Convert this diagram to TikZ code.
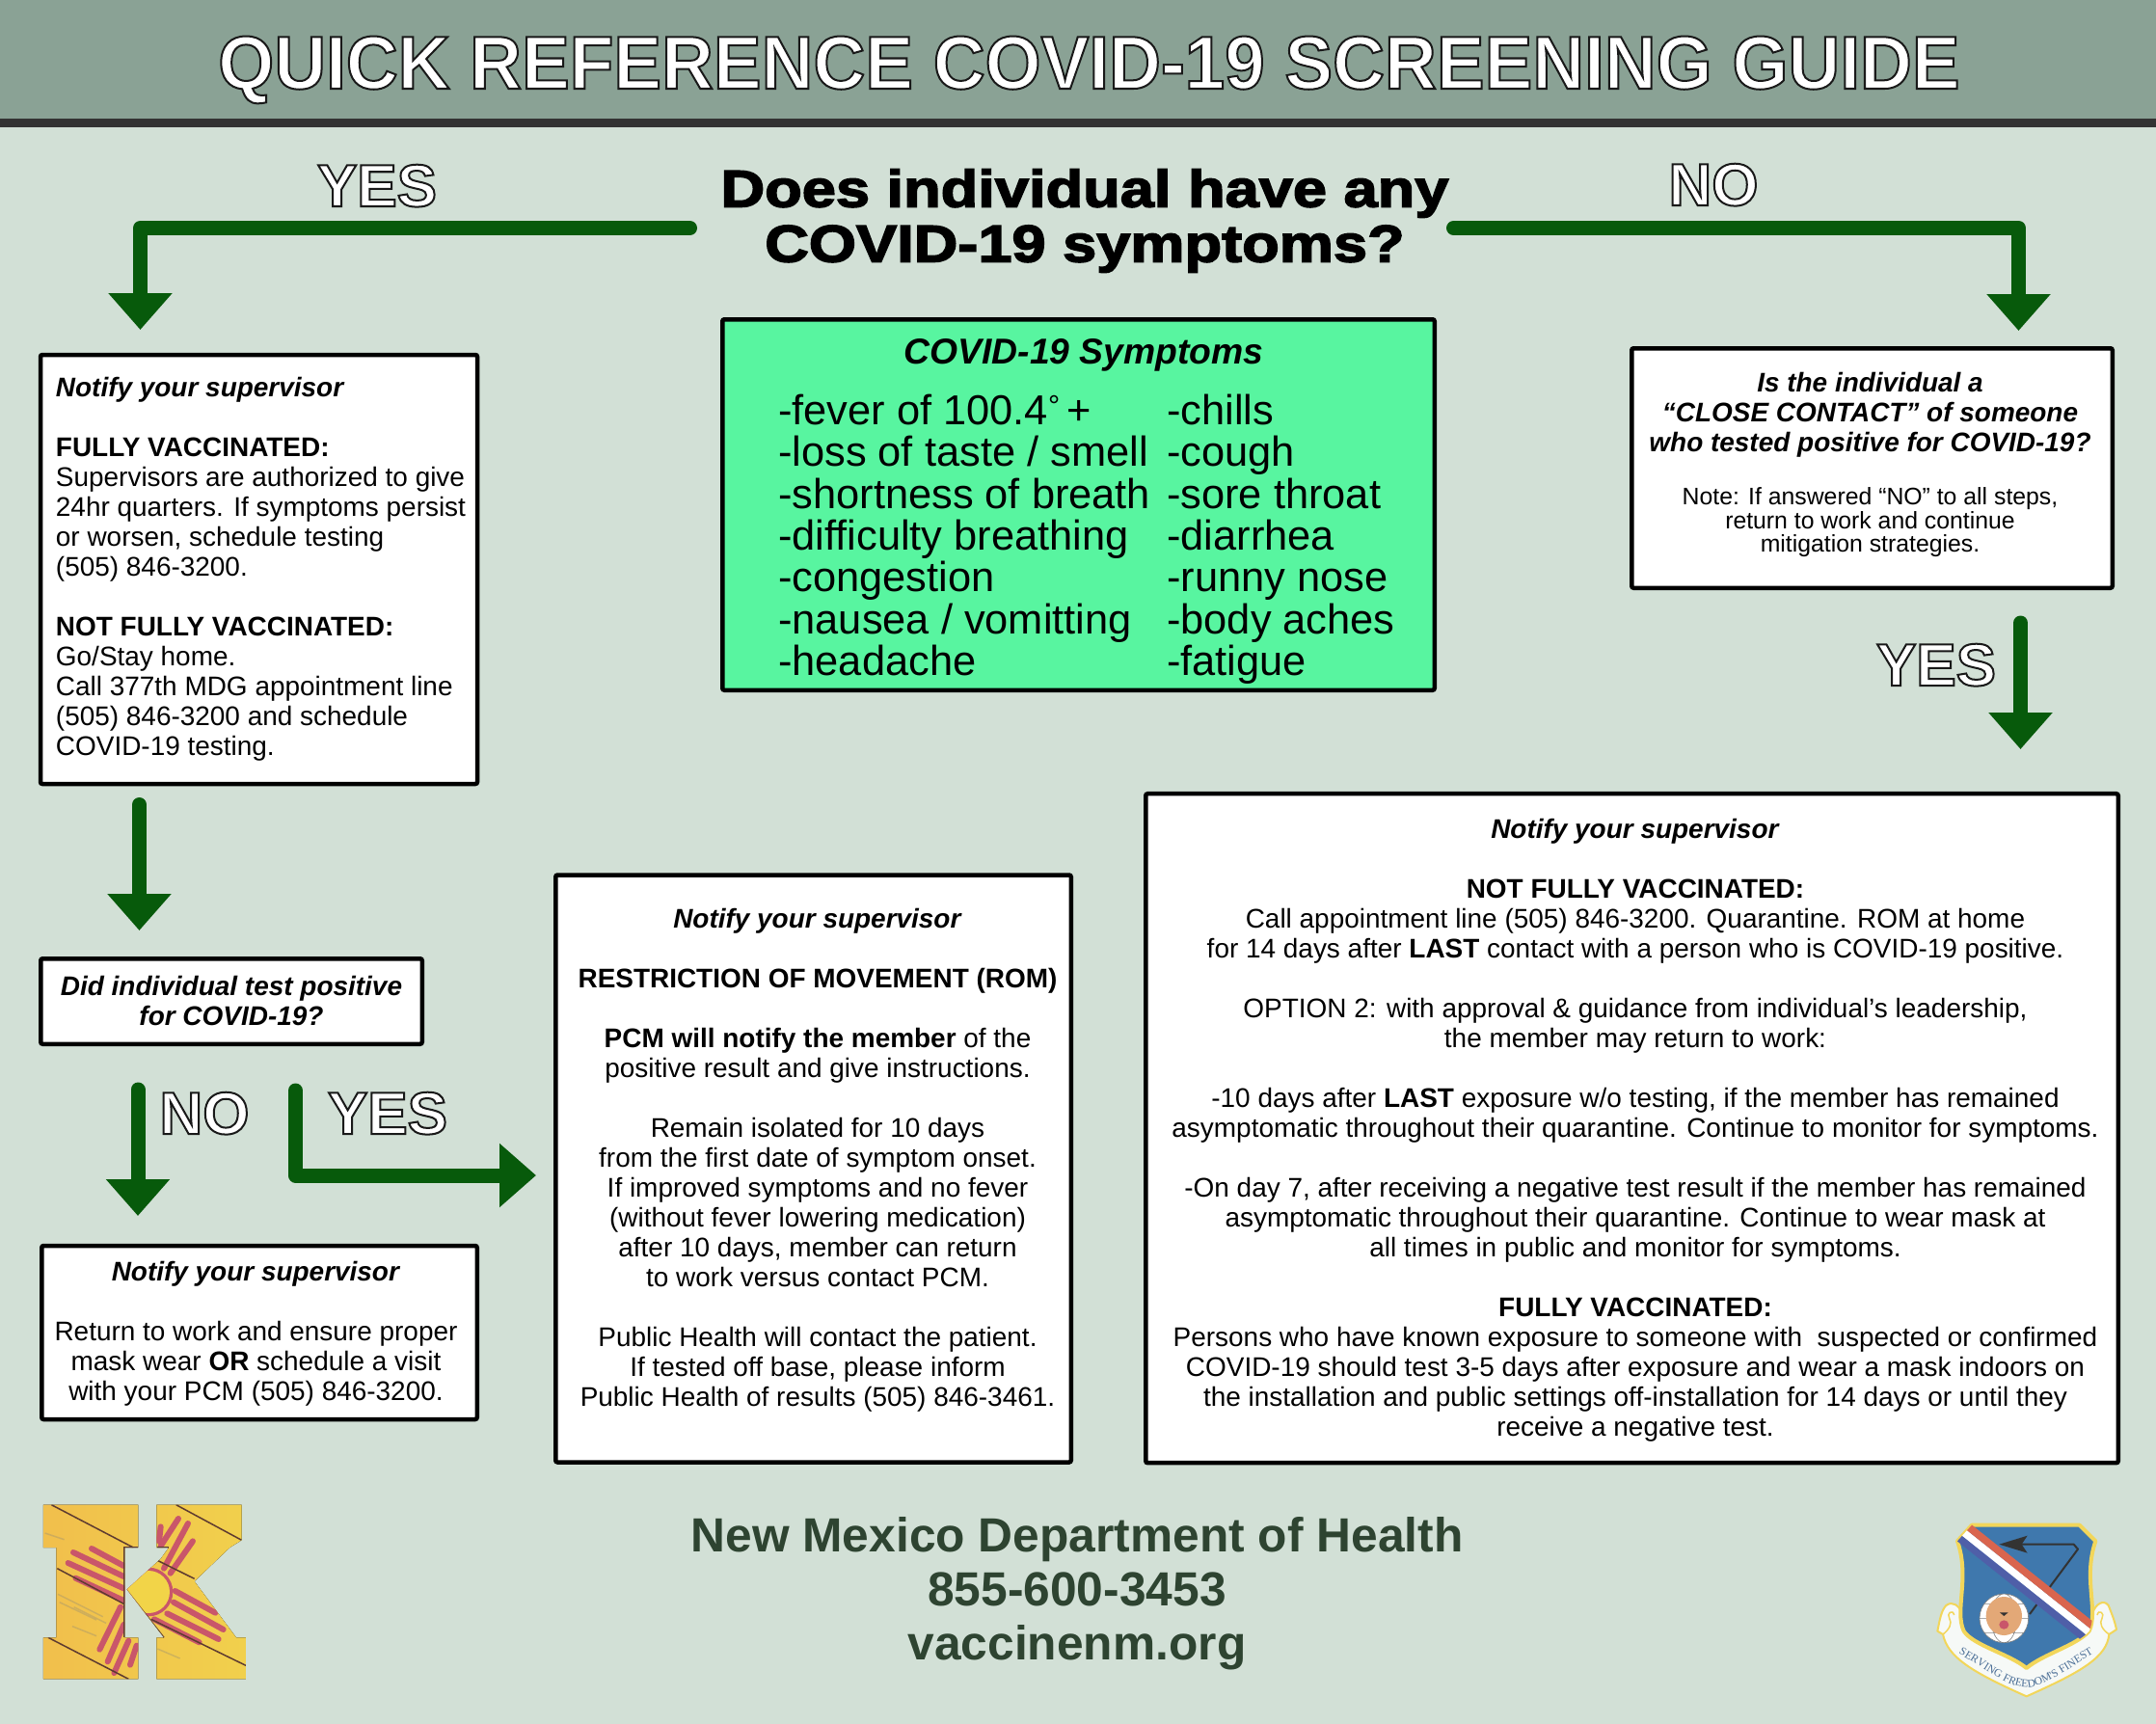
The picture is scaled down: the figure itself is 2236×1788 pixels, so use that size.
\documentclass[tikz,border=0pt]{standalone}
\usepackage{fontspec}
\setmainfont{Liberation Sans}
\setsansfont{Liberation Sans}
\newfontfamily\askfont[FakeBold=3,FakeStretch=1.17]{Liberation Sans Bold}
\newfontfamily\headfont[FakeStretch=0.956]{Liberation Sans Bold}
\newfontfamily\crestfont{Liberation Serif}
\usepackage{tikz}
\usetikzlibrary{arrows.meta,decorations.text}
\definecolor{pagec}{HTML}{D2E0D6}
\definecolor{bandc}{HTML}{8AA295}
\definecolor{barc}{HTML}{333333}
\definecolor{arrowc}{HTML}{075A0B}
\definecolor{sympc}{HTML}{58F5A0}
\definecolor{footc}{HTML}{2E4431}
\definecolor{kgold}{HTML}{EFC95A}
\definecolor{kred}{HTML}{C9566A}
\definecolor{kline}{HTML}{5E3B30}
\definecolor{crestblue}{HTML}{3F78AD}
\definecolor{crestgold}{HTML}{F2D65A}
\definecolor{crestred}{HTML}{D9654E}
\definecolor{crestpurple}{HTML}{4F5FA8}
\definecolor{cresttext}{HTML}{4A6E96}
\definecolor{tigerc}{HTML}{E3A877}
\newcommand{\outl}[1]{\special{pdf:code q 2 Tr 2 w 0.1 0.1 0.1 RG 1 1 1 rg}#1\special{pdf:code Q}}
\newcommand{\bodysize}{\fontsize{27.95}{31}\selectfont}
\newcommand{\notesize}{\fontsize{24.8}{25}\selectfont}
\tikzset{
  >={Triangle[length=38pt,width=64pt]},
  bigarrow/.style={->,line width=15pt,draw=arrowc,line cap=round,line join=round},
  infobox/.style={draw=black,line width=4.5pt,fill=white,rounded corners=2pt,inner sep=0pt},
  boxtext/.style={font=\bodysize,align=center,inner sep=0pt},
  flag/.style={font=\bfseries\fontsize{62}{62}\selectfont,text=white,anchor=base,inner sep=0pt},
  sympcol/.style={font=\fontsize{43.4}{43.3}\selectfont,align=left,anchor=north west,inner sep=0pt},
  ray/.style={line width=6pt,draw=kred,line cap=round},
  kstroke/.style={line width=1.5pt,draw=kline},
  band/.style={line width=7.5pt},
}
\begin{document}
\begin{tikzpicture}[x=1pt,y=-1pt]
  \fill[pagec] (0,0) rectangle (2236,1788);
  \useasboundingbox (0,0) rectangle (2236,1788);
  \fill[bandc] (0,0) rectangle (2236,123);
  \fill[barc] (0,123) rectangle (2236,132);
  \node[font=\headfont\fontsize{78}{78}\selectfont,text=white,anchor=base,inner sep=0pt] (title) at (1129.5,92) {\outl{QUICK REFERENCE COVID-19 SCREENING GUIDE}};
  % question and the symptom list
  \node[font=\askfont\fontsize{54}{57}\selectfont,align=center,inner sep=0pt] (ask) at (1125,229) {Does individual have any\\COVID-19 symptoms?};
  \node[infobox,fill=sympc,minimum width=738.5pt,minimum height=384.5pt] (symp) at (1118.5,523.5) {};
  \node[font=\bfseries\itshape\fontsize{37.3}{37}\selectfont,anchor=base,inner sep=0pt] (symphead) at (1124,377) {COVID-19 Symptoms};
  \node[sympcol] (sympa) at (807,409) {-fever of 100.4\textsuperscript{°}\,+\\-loss of taste / smell\\-shortness of breath\\-difficulty breathing\\-congestion\\-nausea / vomitting\\-headache};
  \node[sympcol] (sympb) at (1210,409) {-chills\\-cough\\-sore throat\\-diarrhea\\-runny nose\\-body aches\\-fatigue};
  % boxes
  \node[infobox,minimum width=453pt,minimum height=445pt] (yesbox) at (268.5,590.5) {};
  \node[boxtext,align=left] (yestext) at ([xshift=2pt,yshift=0.5pt]yesbox.center) {\textbf{\textit{Notify your supervisor}}\\[31pt]\textbf{FULLY VACCINATED:}\\Supervisors are authorized to give\\24hr quarters. If symptoms persist\\or worsen, schedule testing\\(505) 846-3200.\\[31pt]\textbf{NOT FULLY VACCINATED:}\\Go/Stay home.\\Call 377th MDG appointment line\\(505) 846-3200 and schedule\\COVID-19 testing.};
  \node[infobox,minimum width=395.5pt,minimum height=88.5pt] (testbox) at (240,1038.5) {};
  \node[boxtext] (testtext) at ([yshift=0.5pt]testbox.center) {\textbf{\textit{Did individual test positive}}\\\textbf{\textit{for COVID-19?}}};
  \node[infobox,minimum width=451.5pt,minimum height=180pt] (negbox) at (269,1382) {};
  \node[boxtext] (negtext) at ([xshift=-3.5pt,yshift=-1pt]negbox.center) {\textbf{\textit{Notify your supervisor}}\\[31pt]Return to work and ensure proper\\mask wear \textbf{OR} schedule a visit\\with your PCM (505) 846-3200.};
  \node[infobox,minimum width=534.5pt,minimum height=609pt] (rombox) at (843.5,1212) {};
  \node[boxtext] (romtext) at ([xshift=4.5pt,yshift=8.5pt]rombox.center) {\textbf{\textit{Notify your supervisor}}\\[31pt]\textbf{RESTRICTION OF MOVEMENT (ROM)}\\[31pt]\textbf{PCM will notify the member} of the\\positive result and give instructions.\\[31pt]Remain isolated for 10 days\\from the first date of symptom onset.\\If improved symptoms and no fever\\(without fever lowering medication)\\after 10 days, member can return\\to work versus contact PCM.\\[31pt]Public Health will contact the patient.\\If tested off base, please inform\\Public Health of results (505) 846-3461.};
  \node[infobox,minimum width=1008.5pt,minimum height=694pt] (closebox) at (1692.5,1170.2) {};
  \node[boxtext] (closetext) at ([xshift=3.5pt,yshift=-1.8pt]closebox.center) {\textbf{\textit{Notify your supervisor}}\\[31pt]\textbf{NOT FULLY VACCINATED:}\\Call appointment line (505) 846-3200. Quarantine. ROM at home\\for 14 days after \textbf{LAST} contact with a person who is COVID-19 positive.\\[31pt]OPTION 2: with approval \& guidance from individual’s leadership,\\the member may return to work:\\[31pt]-10 days after \textbf{LAST} exposure w/o testing, if the member has remained\\asymptomatic throughout their quarantine. Continue to monitor for symptoms.\\[31pt]-On day 7, after receiving a negative test result if the member has remained\\asymptomatic throughout their quarantine. Continue to wear mask at\\all times in public and monitor for symptoms.\\[31pt]\textbf{FULLY VACCINATED:}\\Persons who have known exposure to someone with\ \ suspected or confirmed\\COVID-19 should test 3-5 days after exposure and wear a mask indoors on\\the installation and public settings off-installation for 14 days or until they\\receive a negative test.};
  \node[infobox,minimum width=498.5pt,minimum height=248.5pt] (contactbox) at (1941.5,485.5) {};
  \node[boxtext] (contacttext) at ([xshift=-2pt,yshift=3.5pt]contactbox.center) {\textbf{\textit{Is the individual a}}\\\textbf{\textit{“CLOSE CONTACT” of someone}}\\\textbf{\textit{who tested positive for COVID-19?}}\\[24pt]\notesize Note: If answered “NO” to all steps,\\[-6.5pt]\notesize return to work and continue\\[-6.5pt]\notesize mitigation strategies.};
  % connectors
  \coordinate (askl) at (715.5,236.5);
  \coordinate (askr) at (1507.5,236.5);
  \coordinate (yesin) at (145.5,342);
  \coordinate (noin) at (2093.5,343);
  \coordinate (yesout) at (144.5,834.5);
  \coordinate (testin) at (144.5,965);
  \coordinate (negout) at (143,1130);
  \coordinate (negin) at (143,1261);
  \coordinate (posout) at (306.5,1131);
  \coordinate (posin) at (556,1219);
  \coordinate (closeout) at (2095.5,646);
  \coordinate (closein) at (2095.5,777);
  \draw[bigarrow] (askl) -| (yesin);
  \draw[bigarrow] (askr) -| (noin);
  \draw[bigarrow] (yesout) -- (testin);
  \draw[bigarrow] (negout) -- (negin);
  \draw[bigarrow] (posout) |- (posin);
  \draw[bigarrow] (closeout) -- (closein);
  \node[flag] (yesa) at (391,214) {\outl{YES}};
  \node[flag] (noa) at (1777,213) {\outl{NO}};
  \node[flag] (nob) at (212,1176) {\outl{NO}};
  \node[flag] (yesb) at (402,1176) {\outl{YES}};
  \node[flag] (yesc) at (2008,711) {\outl{YES}};
  % footer
  \node[font=\bfseries\fontsize{49.7}{56}\selectfont,text=footc,align=center,inner sep=0pt] (foot) at (1117,1653) {New Mexico Department of Health\\855-600-3453\\vaccinenm.org};
  % K logo
  \begin{scope}[shift={(0,1520)},x=0.33333pt,y=-0.33333pt]
    \begin{scope}
      \clip (135,122) -- (430,122) -- (430,255) -- (388,255) -- (388,535) -- (430,535) -- (430,664) -- (135,664) -- (135,535) -- (175,535) -- (175,255) -- (135,255) -- cycle
            (487,122) -- (752,122) -- (752,232) -- (715,255) -- (605,360) -- (735,535) -- (765,535) -- (765,664) -- (487,664) -- (487,535) -- (510,535) -- (395,385) -- (500,290) -- (525,255) -- (487,255) -- cycle;
      \fill[left color=kgold!85!orange,right color=kgold!85!yellow] (100,100) rectangle (800,700);
      \foreach \xa/\ya/\xb/\yb in {180/400/320/470,185/425/300/480,230/440/330/490,225/500/300/530,490/570/560/600,140/210/200/230}
        \draw[gray,opacity=0.3,line width=1.5pt] (\xa,\ya) -- (\xb,\yb);
      \fill[kred] (462,393) circle (76);
      \fill[kgold!80!yellow] (462,393) circle (66);
      \foreach \xa/\ya/\xb/\yb in {285/258/385/312,228/270/385/345,212/303/385/382,235/350/385/420,670/458/545/390,695/510/540/425,680/540/520/460,620/550/480/478,555/165/500/250,585/180/510/320,600/235/530/335,500/190/495/235,310/572/375/440,335/610/385/495,355/645/400/545,405/620/425/560}
        \draw[ray] (\xa,\ya) -- (\xb,\yb);
      \foreach \xa/\ya/\xb/\yb in {160/122/415/255,548/122/752/232,150/535/400/664,178/320/385/430,490/295/605/352,470/478/765/622,392/385/510/535}
        \draw[kstroke] (\xa,\ya) -- (\xb,\yb);
      \draw[kline,line width=2.5pt] (430,255) -- (388,255) -- (388,535);
      \draw[kline,line width=2.5pt] (490,255) -- (525,255);
    \end{scope}
  \end{scope}
  % crest
  \begin{scope}[shift={(1980,1550)},x=0.33333pt,y=-0.33333pt]
    \draw[draw=crestgold,fill=white!80!pagec,line width=2pt,line join=round] (88,425) .. controls (95,390) and (100,360) .. (115,345) .. controls (135,330) and (155,345) .. (165,370) -- (570,370) .. controls (580,340) and (605,325) .. (620,345) .. controls (630,370) and (640,395) .. (645,420) -- (622,435) .. controls (615,505) and (540,550) .. (365,628) .. controls (190,550) and (120,505) .. (105,435) -- cycle;
    \draw[draw=crestgold,line width=1.5pt] (105,435) .. controls (125,420) and (135,400) .. (125,385) .. controls (115,370) and (135,355) .. (140,375);
    \draw[draw=crestgold,line width=1.5pt] (622,435) .. controls (600,420) and (590,400) .. (600,385) .. controls (610,370) and (590,355) .. (585,375);
    \path[decorate,decoration={text along path,text={|\crestfont\fontsize{11.5}{11.5}\selectfont\color{cresttext}|SERVING FREEDOM'S FINEST},text align=center}] (150,492) .. controls (250,550) and (310,600) .. (365,600) .. controls (420,600) and (480,550) .. (578,492);
    \draw[draw=crestgold,fill=crestblue,line width=4pt,line join=round] (195,95) -- (530,95) -- (580,145) .. controls (540,260) and (590,360) .. (560,425) .. controls (520,470) and (420,495) .. (365,540) .. controls (310,495) and (200,470) .. (170,425) .. controls (140,360) and (190,260) .. (150,145) -- cycle;
    \draw[line width=2pt,draw=barc,line join=round] (375,372) -- (525,170) -- (512,155) -- (350,155);
    \fill[barc] (280,155) -- (368,128) -- (350,155) -- (368,182) -- cycle;
    \begin{scope}
      \clip (195,95) -- (530,95) -- (580,145) .. controls (540,260) and (590,360) .. (560,425) .. controls (520,470) and (420,495) .. (365,540) .. controls (310,495) and (200,470) .. (170,425) .. controls (140,360) and (190,260) .. (150,145) -- cycle;
      \draw[band,draw=crestpurple] (155,135) -- (550,450);
      \draw[band,draw=white] (170,118) -- (565,433);
      \draw[band,draw=crestred] (185,101) -- (580,416);
    \end{scope}
    \fill[white] (295,385) circle (76);
    \draw[gray,line width=0.6pt] (295,385) circle (76) (295,385) ellipse (40 and 76) (219,385) -- (371,385) (235,340) -- (355,340) (235,430) -- (355,430);
    \fill[tigerc] (295,378) ellipse (56 and 60);
    \fill[barc] (282,367) -- (308,367) -- (295,378) -- cycle;
    \fill[kred] (295,405) ellipse (15 and 14);
  \end{scope}
\end{tikzpicture}
\end{document}
